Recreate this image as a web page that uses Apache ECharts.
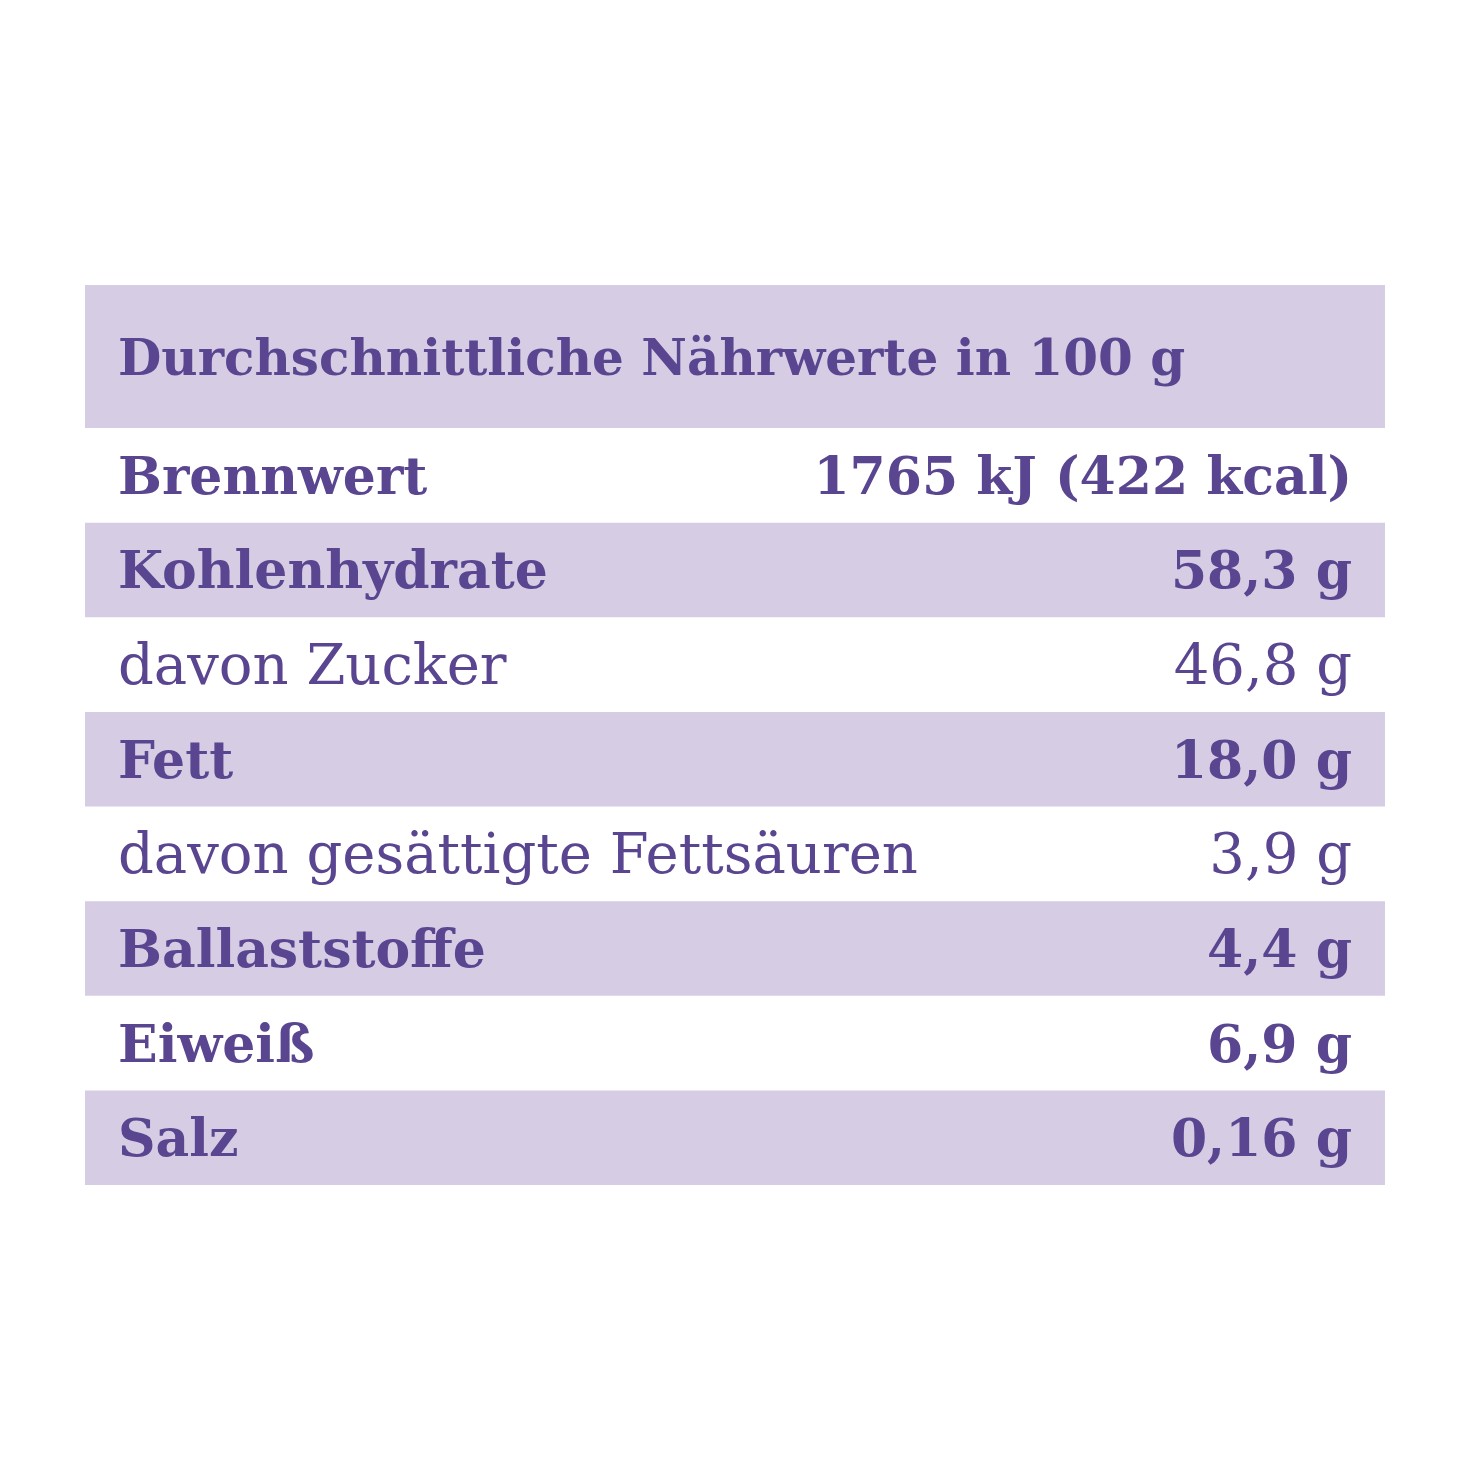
<!DOCTYPE html>
<html><head><meta charset="utf-8">
<script src="https://cdn.jsdelivr.net/npm/echarts@6/dist/echarts.min.js"></script>
<style>html,body{margin:0;background:#fff}#c{width:1470px;height:1470px}</style>
</head><body><div id="c"></div>
<script>
const title = 'Durchschnittliche Nährwerte in 100 g';
const labels = ['Brennwert','Kohlenhydrate','davon Zucker','Fett','davon gesättigte Fettsäuren','Ballaststoffe','Eiweiß','Salz'];
const values = ['1765 kJ (422 kcal)','58,3 g','46,8 g','18,0 g','3,9 g','4,4 g','6,9 g','0,16 g'];
const bold = [true,true,false,true,false,true,true,true];
const shaded = [false,true,false,true,false,true,false,true];

const band = '#d6cce4', ink = '#5a4590', font = '"DejaVu Serif", serif';
const chart = echarts.init(document.getElementById('c'));
chart.setOption({
  backgroundColor:'#fff',
  animation:false,
  grid:{left:85,width:1300,top:428,height:757},
  xAxis:{type:'value',min:0,max:1,show:false},
  yAxis:{type:'category',data:labels,inverse:true,show:false},
  graphic:[
    {type:'rect',shape:{x:85,y:285,width:1300,height:143},style:{fill:band}},
    {type:'text',x:118,y:362,style:{text:title,font:'bold 50px '+font,fill:ink,textVerticalAlign:'middle'}}
  ],
  series:[{
    type:'custom',
    data:labels.map((l,i)=>[0,i]),
    renderItem:(params,api)=>{
      const i=api.value(1);
      const p=api.coord([0,i]);
      const h=api.size([0,1])[1];
      const w=api.size([1,0])[0];
      const f=(bold[i]?'bold 52px ':'56px ')+font;
      const ch=[];
      if(shaded[i]) ch.push({type:'rect',shape:{x:p[0],y:p[1]-h/2,width:w,height:h},style:{fill:band}});
      ch.push({type:'text',style:{x:p[0]+33,y:p[1]+5,text:labels[i],font:f,fill:ink,textVerticalAlign:'middle'}});
      ch.push({type:'text',style:{x:p[0]+w-33,y:p[1]+5,text:values[i],font:f,fill:ink,textAlign:'right',textVerticalAlign:'middle'}});
      return {type:'group',children:ch};
    }
  }]
});
</script></body></html>
